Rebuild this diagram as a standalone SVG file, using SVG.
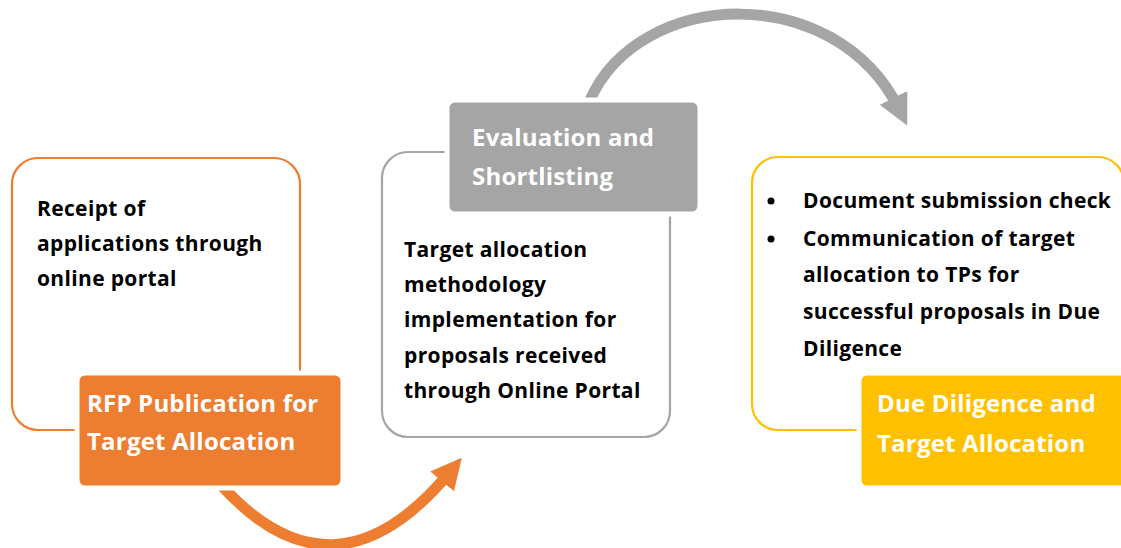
<svg xmlns="http://www.w3.org/2000/svg" width="1121" height="548" viewBox="0 0 1121 548">
  <defs>
    <style>
      .body { font-family: "Open Sans", "Liberation Sans", sans-serif; font-weight: 700; font-size: 21px; letter-spacing: 0.35px; fill: #000; }
      .head { font-family: "Open Sans", "Liberation Sans", sans-serif; font-weight: 700; font-size: 24px; letter-spacing: 0.2px; fill: #fff; }
      .frame { fill: #fff; stroke-width: 2.2; }
      .tag { stroke: #fff; stroke-width: 5; }
    </style>
    <marker id="headOrange" viewBox="0 0 10 10" refX="4" refY="5" markerWidth="2.8" markerHeight="2.8" orient="auto" markerUnits="strokeWidth">
      <path d="M0 0 L10 5 L0 10 Z" fill="#ED7D31"/>
    </marker>
    <marker id="headGray" viewBox="0 0 10 10" refX="4" refY="5" markerWidth="2.8" markerHeight="2.8" orient="auto" markerUnits="strokeWidth">
      <path d="M0 0 L10 5 L0 10 Z" fill="#A5A5A5"/>
    </marker>
  </defs>

  <rect width="1121" height="548" fill="#fff"/>

  <!-- connectors between the stages -->
  <g id="connectors" fill="none" stroke-width="11">
    <path d="M 222 486 Q 335 610 450 472" stroke="#ED7D31" marker-end="url(#headOrange)"/>
    <path d="M 590 100 C 640 -12 835 -20 899 109" stroke="#A5A5A5" marker-end="url(#headGray)"/>
  </g>

  <!-- stage 1 -->
  <g id="stage-rfp">
    <rect class="frame" x="12" y="158" width="288" height="272" rx="26" stroke="#ED7D31"/>
    <text class="body" x="37" y="216">Receipt of</text>
    <text class="body" x="37" y="251">applications through</text>
    <text class="body" x="37" y="286">online portal</text>
    <rect class="tag" x="77" y="373" width="266" height="115" rx="8" fill="#ED7D31"/>
    <text class="head" x="87" y="412">RFP Publication for</text>
    <text class="head" x="87" y="450">Target Allocation</text>
  </g>

  <!-- stage 2 -->
  <g id="stage-evaluation">
    <rect class="frame" x="382" y="152" width="288" height="285" rx="26" stroke="#A5A5A5"/>
    <text class="body" x="404" y="257">Target allocation</text>
    <text class="body" x="404" y="292">methodology</text>
    <text class="body" x="404" y="327">implementation for</text>
    <text class="body" x="404" y="363">proposals received</text>
    <text class="body" x="404" y="398">through Online Portal</text>
    <rect class="tag" x="447" y="100" width="253" height="114" rx="8" fill="#A5A5A5"/>
    <text class="head" x="472" y="146">Evaluation and</text>
    <text class="head" x="472" y="185">Shortlisting</text>
  </g>

  <!-- stage 3 -->
  <g id="stage-due-diligence">
    <rect class="frame" x="752" y="157" width="372" height="273" rx="26" stroke="#FFC000"/>
    <circle cx="771" cy="201" r="3.5" fill="#000"/>
    <circle cx="771" cy="239" r="3.5" fill="#000"/>
    <text class="body" x="803" y="208">Document submission check</text>
    <text class="body" x="803" y="246">Communication of target</text>
    <text class="body" x="803" y="282">allocation to TPs for</text>
    <text class="body" x="803" y="319">successful proposals in Due</text>
    <text class="body" x="803" y="356">Diligence</text>
    <rect class="tag" x="859" y="373" width="280" height="115" rx="8" fill="#FFC000"/>
    <text class="head" x="877" y="412">Due Diligence and</text>
    <text class="head" x="877" y="452">Target Allocation</text>
  </g>
</svg>
